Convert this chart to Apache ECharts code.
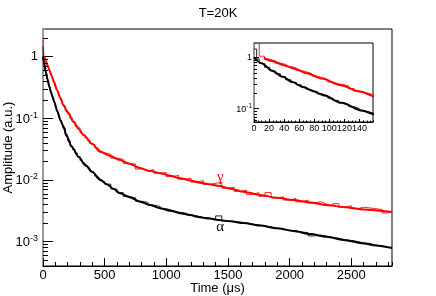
<!DOCTYPE html>
<html><head><meta charset="utf-8">
<script src="https://cdn.jsdelivr.net/npm/echarts@6/dist/echarts.min.js"></script>
<style>html,body{margin:0;padding:0;background:#fff}#c{width:436px;height:296px}</style>
</head><body><div id="c"></div>
<script>
// ---- data ----
const histEdges = [0,7,14,21,28,35,42,49,56,63,70,77,84,91,98,105,112,119,126,133,140,147,154,161,
  180,200,220,240,260,280,300,320,340,360,380,400,420,440,460,480,500,
  550,600,650,700,750,800,850,900,950,1000,1050,1100,1150,1200,1250,1300,1350,1400,1450,1500,
  1550,1600,1650,1700,1750,1800,1850,1900,1950,2000,2050,2100,2150,2200,2250,2300,2350,2400,
  2450,2500,2550,2600,2650,2700,2750,2800,2830];
const redHist = [1.85,1.05,0.92,0.85,0.77,0.73,0.66,0.62,0.55,0.52,0.48,0.43,0.40,0.37,0.33,0.305,0.295,0.275,0.245,0.222,0.205,0.196,0.18,
  0.158,0.134,0.117,0.100,0.087,0.074,0.069,0.058,0.053,0.048,0.044,0.039,0.037,0.033,0.031,0.028,0.0275,
  0.026,0.0225,0.0215,0.0185,0.018,0.0150,0.0140,0.0146,0.0128,0.0131,0.0113,0.0118,0.0102,0.0106,0.0092,0.0097,
  0.0084,0.0088,0.0091,0.0073,0.0076,0.0065,0.0068,0.0058,0.0062,0.0054,0.0062,0.0051,0.0053,0.0047,0.0050,0.0044,
  0.0047,0.0042,0.0044,0.0041,0.0038,0.0041,0.0036,0.0038,0.0034,0.0036,0.0035,0.0034,0.0033,0.0029,
  0.0031];
const blackHistEdges = [0, 3.5].concat(histEdges.slice(1));
const blackHist = [1.45,0.93,
  0.76,0.64,0.545,0.48,0.42,0.365,0.325,0.29,0.262,0.236,0.215,0.195,0.177,0.16,0.145,0.131,0.12,0.109,0.1,0.091,0.0855,0.0798,
  0.069,0.054,0.043,0.0352,0.0308,0.027,0.0237,0.0207,0.0188,0.0166,0.0155,0.0138,0.0129,0.0115,0.0107,0.0097,0.0093,
  0.0085,0.0071,0.0062,0.0054,0.0051,0.0045,0.0043,0.0039,0.0037,0.0034,0.0032,0.0030,0.0029,0.0027,0.0026,0.00245,
  0.0024,0.0023,0.0026,0.00215,0.0021,0.00205,0.0020,0.0019,0.00186,0.00177,0.00174,0.00162,0.00161,0.00152,0.00150,
  0.00142,0.00139,0.00123,0.00127,0.00122,0.00116,0.00113,0.00107,0.00104,0.001,0.00095,0.00093,0.00087,0.00085,0.0008,
  0.00081];
const redFitT = [13,25,40,55,70,90,115,140,165,200,246,290,327,400,463,540,625,700,787,869,950,1030,1112,1190,1274,1350,1420,1520,1626,1760,1897,2030,2167,2300,2450,2600,2830];
const redFitV = [0.97,0.84,0.70,0.59,0.49,0.385,0.285,0.215,0.164,0.125,0.088,0.067,0.054,0.038,0.0287,0.0247,0.021,0.0182,0.0155,0.0139,0.0128,0.0117,0.0106,0.0098,0.0090,0.0085,0.0080,0.0072,0.0064,0.0057,0.0051,0.0047,0.0043,0.0039,0.0036,0.0033,0.0030];
const blackFitT = [0,10,24,38,51,65,78,91,116,143,161,195,233,290,341,400,463,517,570,625,700,787,870,950,1030,1112,1190,1274,1350,1420,1520,1626,1760,1897,2030,2167,2300,2450,2600,2700,2830];
const blackFitV = [1.0,0.77,0.55,0.42,0.33,0.265,0.222,0.186,0.13,0.092,0.077,0.05,0.0345,0.0235,0.0175,0.0134,0.0100,0.0085,0.0072,0.00605,0.00524,0.00442,0.0039,0.00346,0.00316,0.00288,0.00268,0.00247,0.00235,0.00224,0.00212,0.00199,0.00181,0.00164,0.00148,0.00132,0.00119,0.00105,0.00093,0.00086,0.00078];
const yMinorMain = [0.0005,0.0006,0.0007,0.0008,0.0009,0.002,0.003,0.004,0.005,0.006,0.007,0.008,0.009,0.02,0.03,0.04,0.05,0.06,0.07,0.08,0.09,0.2,0.3,0.4,0.5,0.6,0.7,0.8,0.9,2];
const yMinorInset = [0.06,0.07,0.08,0.09,0.2,0.3,0.4,0.5,0.6,0.7,0.8,0.9];
const gammaPos = [1437, 0.0111];
const alphaPos = [1437, 0.00172];
const mainX = {min: 0, max: 2830, major: 500, minor: 100};
const mainY = {min: 0.0004, max: 2.8};
const insetX = {min: 0, max: 158, major: 20, minor: 5};
const insetY = {min: 0.055, max: 1.9};

// ---- helpers ----
const FONT = 'Liberation Sans';
function stepData(edges, vals) { return edges.map((e, i) => [e, vals[Math.min(i, vals.length - 1)]]); }
function pairs(t, v) { return t.map((x, i) => [x, v[i]]); }
function logLabel(v) {
  const e = Math.log10(v), r = Math.round(e);
  if (Math.abs(e - r) > 1e-6) return '';
  if (r === 0) return '1';
  return '{b|10}{s|' + r + '}';
}
function plainLabel(v) { return String(v); }
function tickRenderer(len) {
  return function (params, api) {
    const p = api.coord([api.value(0), api.value(1)]);
    const y = Math.round(p[1]) + 0.5;
    return {type: 'line', shape: {x1: p[0], y1: y, x2: p[0] + len, y2: y}, style: {stroke: '#000', lineWidth: 1}};
  };
}
function xAxisDef(grid, ax, opts) {
  return Object.assign({
    type: 'value', gridIndex: grid, min: ax.min, max: ax.max, position: 'bottom',
    splitLine: {show: false}
  }, opts);
}
const noShow = {show: false};

const chart = echarts.init(document.getElementById('c'), null, {renderer: 'canvas'});
const option = {
  backgroundColor: '#fff',
  animation: false,
  title: {text: 'T=20K', left: 'center', top: 2,
    textStyle: {fontSize: 13, fontWeight: 'normal', fontFamily: FONT, color: '#000'}},
  grid: [
    {left: 43, top: 29, right: 44, bottom: 30, show: true, borderColor: '#000', borderWidth: 1, backgroundColor: '#fff', outerBoundsMode: 'none'},
    {left: 254, top: 43, right: 63, bottom: 174, show: true, borderColor: '#000', borderWidth: 1, backgroundColor: '#fff', outerBoundsMode: 'none'}
  ],
  xAxis: [
    xAxisDef(0, mainX, {interval: mainX.major,
      axisLine: {show: true, lineStyle: {color: '#000', width: 1}},
      axisTick: {show: true, inside: true, length: 8, lineStyle: {color: '#000'}},
      axisLabel: {show: true, color: '#000', fontSize: 13, fontFamily: FONT, margin: 3, showMaxLabel: false, hideOverlap: false, formatter: plainLabel},
      name: 'Time (\u03bcs)', nameLocation: 'middle', nameGap: 16, nameMoveOverlap: false,
      nameTextStyle: {fontSize: 13, fontFamily: FONT, color: '#000'}}),
    xAxisDef(0, mainX, {interval: mainX.minor, axisLine: noShow, axisLabel: noShow,
      axisTick: {show: true, inside: true, length: 4, lineStyle: {color: '#000'}}}),
    xAxisDef(1, insetX, {interval: insetX.major,
      axisLine: {show: true, lineStyle: {color: '#000', width: 1}},
      axisTick: {show: true, inside: true, length: 3, lineStyle: {color: '#000'}},
      axisLabel: {show: true, color: '#000', fontSize: 9, fontFamily: FONT, margin: 2, showMaxLabel: false, hideOverlap: false, formatter: plainLabel}}),
    xAxisDef(1, insetX, {interval: insetX.minor, axisLine: noShow, axisLabel: noShow,
      axisTick: {show: true, inside: true, length: 1.5, lineStyle: {color: '#000'}}})
  ],
  yAxis: [
    {type: 'log', logBase: 10, gridIndex: 0, min: mainY.min, max: mainY.max, position: 'left',
      splitLine: noShow,
      axisLine: {show: true, lineStyle: {color: '#000', width: 1}},
      axisTick: {show: true, inside: true, length: 10, lineStyle: {color: '#000'}},
      axisLabel: {show: true, color: '#000', fontSize: 13, fontFamily: FONT, margin: 5, formatter: logLabel,
        showMinLabel: false, showMaxLabel: false, hideOverlap: false,
        rich: {b: {fontSize: 13, fontFamily: FONT, color: '#000', verticalAlign: 'bottom'},
               s: {fontSize: 9, fontFamily: FONT, color: '#000', verticalAlign: 'top', padding: [0, 0, 6, 0]}}},
      name: 'Amplitude (a.u.)', nameLocation: 'middle', nameGap: 28, nameMoveOverlap: false,
      nameTextStyle: {fontSize: 13, fontFamily: FONT, color: '#000'}},
    {type: 'log', logBase: 10, gridIndex: 0, min: mainY.min, max: mainY.max, position: 'right',
      splitLine: noShow, axisTick: noShow, axisLabel: noShow,
      axisLine: {show: true, lineStyle: {color: '#999', width: 2}}},
    {type: 'log', logBase: 10, gridIndex: 1, min: insetY.min, max: insetY.max, position: 'left',
      splitLine: noShow,
      axisLine: {show: true, lineStyle: {color: '#000', width: 1}},
      axisTick: {show: true, inside: true, length: 5, lineStyle: {color: '#000'}},
      axisLabel: {show: true, color: '#000', fontSize: 9, fontFamily: FONT, margin: 2, formatter: logLabel,
        showMinLabel: false, showMaxLabel: false, hideOverlap: false,
        rich: {b: {fontSize: 9, fontFamily: FONT, color: '#000', verticalAlign: 'bottom'},
               s: {fontSize: 6.5, fontFamily: FONT, color: '#000', verticalAlign: 'top', padding: [0, 0, 4, 0]}}}},
    {type: 'log', logBase: 10, gridIndex: 1, min: insetY.min, max: insetY.max, position: 'right',
      splitLine: noShow, axisTick: noShow, axisLabel: noShow,
      axisLine: {show: true, lineStyle: {color: '#999', width: 2}}}
  ],
  series: [
    {type: 'line', xAxisIndex: 0, yAxisIndex: 0, data: stepData(histEdges, redHist), step: 'end', showSymbol: false,
      lineStyle: {color: '#ff2020', width: 1}, z: 2},
    {type: 'line', xAxisIndex: 0, yAxisIndex: 0, data: stepData(blackHistEdges, blackHist), step: 'end', showSymbol: false,
      lineStyle: {color: '#222', width: 1}, z: 2},
    {type: 'line', xAxisIndex: 0, yAxisIndex: 0, data: pairs(redFitT, redFitV), smooth: 0.3, smoothMonotone: 'x', showSymbol: false,
      lineStyle: {color: '#ff0000', width: 2}, z: 3,
      markPoint: {symbol: 'circle', symbolSize: 0, silent: true,
        data: [{coord: gammaPos, label: {show: true, position: 'inside', formatter: '\u03b3', color: '#ff0000', fontSize: 15, fontFamily: 'Liberation Serif'}}]}},
    {type: 'line', xAxisIndex: 0, yAxisIndex: 0, data: pairs(blackFitT, blackFitV), smooth: 0.3, smoothMonotone: 'x', showSymbol: false,
      lineStyle: {color: '#000', width: 2}, z: 3,
      markPoint: {symbol: 'circle', symbolSize: 0, silent: true,
        data: [{coord: alphaPos, label: {show: true, position: 'inside', formatter: '\u03b1', color: '#000', fontSize: 15, fontFamily: 'Liberation Serif'}}]}},
    {type: 'custom', xAxisIndex: 0, yAxisIndex: 0, renderItem: tickRenderer(5), data: yMinorMain.map(v => [mainX.min, v]), z: 4, silent: true},

    {type: 'line', xAxisIndex: 2, yAxisIndex: 2, data: stepData(histEdges, redHist), step: 'end', showSymbol: false,
      lineStyle: {color: '#ff2020', width: 1}, z: 2},
    {type: 'line', xAxisIndex: 2, yAxisIndex: 2, data: stepData(blackHistEdges, blackHist), step: 'end', showSymbol: false,
      lineStyle: {color: '#222', width: 1}, z: 2},
    {type: 'line', xAxisIndex: 2, yAxisIndex: 2, data: pairs(redFitT, redFitV), smooth: 0.3, smoothMonotone: 'x', showSymbol: false,
      lineStyle: {color: '#ff0000', width: 2}, z: 3},
    {type: 'line', xAxisIndex: 2, yAxisIndex: 2, data: pairs(blackFitT, blackFitV), smooth: 0.3, smoothMonotone: 'x', showSymbol: false,
      lineStyle: {color: '#000', width: 2}, z: 3},
    {type: 'custom', xAxisIndex: 2, yAxisIndex: 2, renderItem: tickRenderer(3), data: yMinorInset.map(v => [insetX.min, v]), z: 4, silent: true}
  ]
};
chart.setOption(option);
</script>
</body></html>
